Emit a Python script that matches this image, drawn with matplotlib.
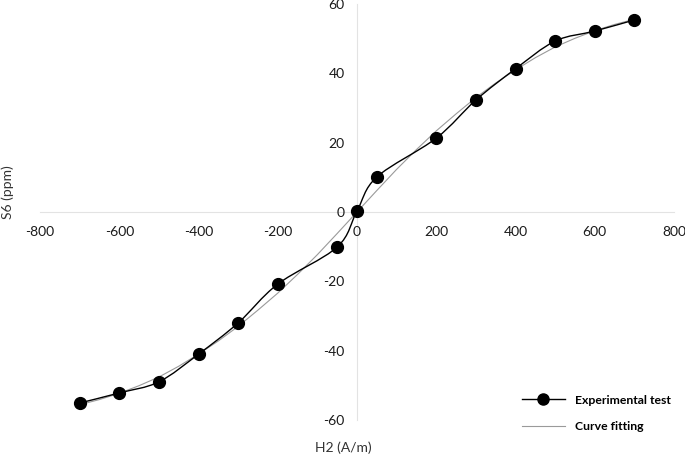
import numpy as np
import matplotlib
matplotlib.use("Agg")
import matplotlib.pyplot as plt
from matplotlib.path import Path
import matplotlib.patches as mpatches
from matplotlib.lines import Line2D

# ─── Data ─────────────────────────────────────────────────────────────────────
H2_EXP = [-700, -600, -500, -400, -300, -200, -50, 0, 50, 200, 300, 400, 500, 600, 700]
S6_EXP = [-55.1, -52.2, -49.0, -41.0, -32.0, -20.8, -10.1, 0.3, 10.1,
          21.3, 32.3, 41.3, 49.3, 52.2, 55.4]

H2_FIT = [-700, -650, -600, -550, -500, -450, -400, -350, -300, -250, -200, -150,
          -100, -50, 0, 50, 100, 150, 200, 250, 300, 350, 400, 450, 500, 550,
          600, 650, 700]
S6_FIT = [-55.6, -54.1, -52.3, -50.1, -47.6, -44.5, -41.0, -37.2, -33.0, -28.3,
          -23.4, -18.0, -12.3, -6.2, 0.0, 6.2, 12.3, 18.0, 23.4, 28.3, 33.0,
          37.2, 41.0, 44.5, 47.6, 50.1, 52.3, 54.1, 55.6]

X_TICKS = [-800, -600, -400, -200, 0, 200, 400, 600, 800]
Y_TICKS = [-60, -40, -20, 0, 20, 40, 60]

FONT = "Lato"
plt.rcParams["font.family"] = [FONT, "DejaVu Sans"]
plt.rcParams["axes.unicode_minus"] = False


def smooth_path(xs, ys):
    """Excel-like smoothed line: cubic Bezier through every point."""
    pts = np.column_stack([xs, ys]).astype(float)
    verts = [pts[0]]
    codes = [Path.MOVETO]
    n = len(pts)
    for i in range(n - 1):
        p0 = pts[i - 1] if i > 0 else pts[i]
        p1 = pts[i]
        p2 = pts[i + 1]
        p3 = pts[i + 2] if i + 2 < n else pts[i + 1]
        c1 = p1 + (p2 - p0) / 6.0
        c2 = p2 - (p3 - p1) / 6.0
        verts += [c1, c2, p2]
        codes += [Path.CURVE4] * 3
    return Path(verts, codes)


fig = plt.figure(figsize=(6.85, 4.55), dpi=100)
ax = fig.add_axes([40 / 685, 1 - 420 / 455, 634 / 685, 416 / 455])

# ── Lines ─────────────────────────────────────────────────────────────────────
ax.plot(H2_FIT, S6_FIT, color="#9a9a9a", lw=0.8, zorder=2)
ax.add_patch(mpatches.PathPatch(smooth_path(H2_EXP, S6_EXP), facecolor="none",
                                edgecolor="black", lw=1.0, zorder=3))
ax.plot(H2_EXP, S6_EXP, ls="none", marker="o", ms=8.5, color="black", zorder=4)

# ── Axes through the origin ───────────────────────────────────────────────────
ax.set_xlim(-800, 800)
ax.set_ylim(-60, 60)
ax.spines["left"].set_position(("data", 0))
ax.spines["bottom"].set_position(("data", 0))
ax.spines["right"].set_visible(False)
ax.spines["top"].set_visible(False)
for s in ("left", "bottom"):
    ax.spines[s].set_color("#e3e3e3")
    ax.spines[s].set_linewidth(0.8)
    ax.spines[s].set_zorder(1)

ax.set_xticks(X_TICKS)
ax.set_yticks(Y_TICKS)
ax.tick_params(axis="x", length=0, pad=10, labelsize=10, colors="#1a1a1a")
ax.tick_params(axis="y", length=0, pad=9, labelsize=10, colors="#1a1a1a")

fig.text(343 / 685, 1 - 448 / 455, "H2 (A/m)", ha="center", va="center",
         fontsize=10, color="#333333")
fig.text(8 / 685, 1 - 192 / 455, "S6 (ppm)", ha="center", va="center",
         rotation=90, fontsize=10, color="#333333")

# ── Legend ────────────────────────────────────────────────────────────────────
handles = [Line2D([], [], color="black", lw=1.0, marker="o", ms=8),
           Line2D([], [], color="#9a9a9a", lw=0.8)]
leg = fig.legend(handles, ["Experimental test", "Curve fitting"],
                 loc="center left", bbox_to_anchor=(522 / 685, 1 - 413.5 / 455),
                 frameon=False, borderpad=0, borderaxespad=0, handlelength=3.5,
                 handletextpad=0.8, labelspacing=1.3,
                 prop={"family": FONT, "weight": "bold", "size": 8.8})

fig.savefig("out.png", dpi=100)
